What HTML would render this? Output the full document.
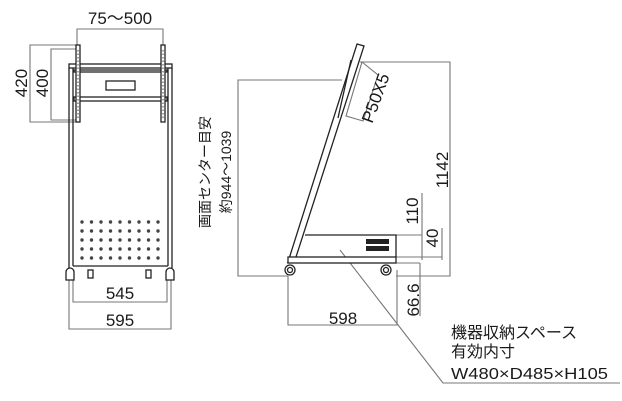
<!DOCTYPE html>
<html><head><meta charset="utf-8"><style>
html,body{margin:0;padding:0;background:#fff;}
svg{display:block;}
text{font-family:"Liberation Sans","Noto Sans CJK JP",sans-serif;fill:#1a1a1a;}
</style></head><body>
<svg width="622" height="401" viewBox="0 0 622 401" xmlns="http://www.w3.org/2000/svg">
<g fill="none" stroke="#777" stroke-width="1.1">
<polyline points="77,45 77,29 163,29 163,45"/>
<polyline points="77,45 30,45 30,122 77,122"/>
<polyline points="77,49 51,49 51,120 77,120"/>
<polyline points="73,280 73,302 167,302 167,280"/>
<polyline points="69,280 69,329 171,329 171,280"/>
</g>
<text x="120" y="24" font-size="17" text-anchor="middle">75～500</text>
<text transform="translate(27,83) rotate(-90)" font-size="17" text-anchor="middle">420</text>
<text transform="translate(48,83) rotate(-90)" font-size="17" text-anchor="middle">400</text>
<text x="120" y="299" font-size="17" text-anchor="middle">545</text>
<text x="120" y="326" font-size="17" text-anchor="middle">595</text>
<g fill="none" stroke="#222" stroke-width="1.3">
<rect x="69" y="64" width="103" height="4" fill="#fff"/>
<line x1="69" y1="68" x2="69" y2="268"/><line x1="73" y1="68" x2="73" y2="266"/>
<line x1="168" y1="68" x2="168" y2="266"/><line x1="172" y1="68" x2="172" y2="268"/>
<rect x="74" y="70" width="93" height="2"/>
<rect x="74" y="97" width="93" height="4"/>
<rect x="106" y="81" width="29" height="9"/>
<rect x="76" y="45" width="4" height="77" fill="#fff"/>
<rect x="161" y="45" width="4" height="77" fill="#fff"/>
<line x1="73" y1="266" x2="168" y2="266"/>
<path d="M66,280 v-8 a4,4 0 0 1 8,0 v8 z"/>
<path d="M166,280 v-8 a4,4 0 0 1 8,0 v8 z"/>
<rect x="88" y="270" width="5" height="8"/>
<rect x="146" y="270" width="5" height="8"/>
</g>
<g stroke="#444" stroke-width="1">
<line x1="78" y1="50" x2="78" y2="120" stroke-dasharray="1.5,2"/>
<line x1="163" y1="50" x2="163" y2="120" stroke-dasharray="1.5,2"/>
</g>
<g fill="#444">
<g id="r">
<circle cx="82" cy="222" r="1.7"/><circle cx="91.5" cy="222" r="1.7"/><circle cx="101" cy="222" r="1.7"/><circle cx="110.5" cy="222" r="1.7"/><circle cx="120" cy="222" r="1.7"/><circle cx="129.5" cy="222" r="1.7"/><circle cx="139" cy="222" r="1.7"/><circle cx="148.5" cy="222" r="1.7"/><circle cx="158" cy="222" r="1.7"/>
</g>
<use href="#r" y="9"/><use href="#r" y="18"/><use href="#r" y="27"/><use href="#r" y="36"/>
</g>
<g fill="none" stroke="#777" stroke-width="1.1">
<polyline points="342,80 238,80 238,276 288,276"/>
<polyline points="360,62 450,62 450,276 396,276"/>
<polyline points="396,235 422,235"/><line x1="422" y1="193" x2="422" y2="260"/>
<polyline points="396,257 442,257"/><line x1="442" y1="228" x2="442" y2="260"/>
<polyline points="396,263 420,263"/><line x1="420" y1="263" x2="420" y2="316"/>
<polyline points="288,276 288,325 397,325 397,270"/>
<polygon points="362,62 378,75 363,121 346,116"/>
<polyline points="340,250 443,383 620,383"/>
</g>
<text transform="translate(381,100) rotate(-70)" font-size="17" text-anchor="middle">P50X5</text>
<text transform="translate(448,170) rotate(-90)" font-size="17" text-anchor="middle">1142</text>
<text transform="translate(418,211) rotate(-90)" font-size="17" text-anchor="middle">110</text>
<text transform="translate(438,238) rotate(-90)" font-size="17" text-anchor="middle">40</text>
<text transform="translate(419,300) rotate(-90)" font-size="17" text-anchor="middle">66.6</text>
<text x="343" y="324" font-size="17" text-anchor="middle">598</text>
<text transform="translate(210,172) rotate(-90)" font-size="14" text-anchor="middle">画面センター目安</text>
<text transform="translate(231,172) rotate(-90)" font-size="14" text-anchor="middle">約944～1039</text>
<text x="451" y="338" font-size="16">機器収納スペース</text>
<text x="451" y="357" font-size="16">有効内寸</text>
<text x="451" y="379" font-size="16" textLength="157" lengthAdjust="spacingAndGlyphs">W480×D485×H105</text>
<g fill="none" stroke="#222" stroke-width="1.3">
<polygon points="357,44 364,46 296,257 288,262" fill="#fff"/>
<rect x="288" y="257" width="108" height="6" fill="#fff"/>
<polyline points="305,235 396,235 396,257"/>
<line x1="351" y1="60" x2="338" y2="118"/>
<circle cx="290" cy="270" r="5"/><circle cx="290" cy="270" r="2.5"/>
<circle cx="386" cy="270" r="5"/><circle cx="386" cy="270" r="2.5"/>
</g>
<g fill="#222">
<rect x="366" y="239" width="23" height="5"/>
<rect x="366" y="246" width="23" height="5"/>
</g>
</svg>
</body></html>
